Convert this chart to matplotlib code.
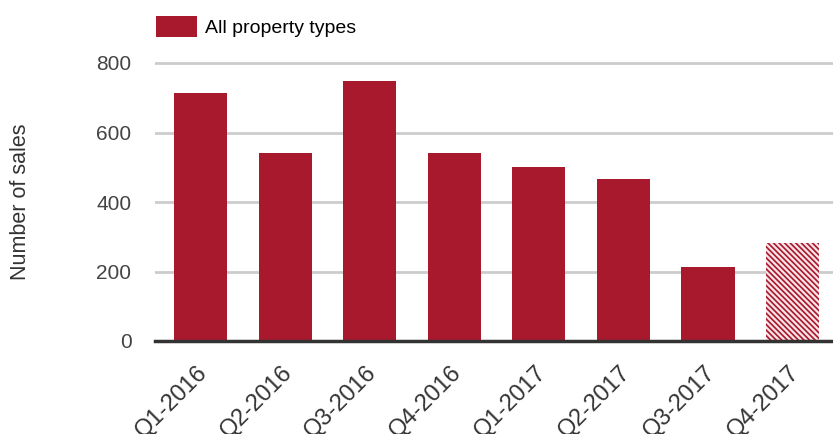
import matplotlib
matplotlib.use("Agg")
import matplotlib.pyplot as plt
import matplotlib.transforms as mtransforms
from matplotlib.patches import Patch

categories = ["Q1-2016", "Q2-2016", "Q3-2016", "Q4-2016", "Q1-2017", "Q2-2017", "Q3-2017", "Q4-2017"]
sales = [714, 541, 748, 541, 501, 466, 213, 282]
hatched = [False, False, False, False, False, False, False, True]
yticks = [0, 200, 400, 600, 800]

color = "#A8192E"
plt.rcParams['font.family'] = ['Liberation Sans', 'DejaVu Sans']
plt.rcParams['hatch.linewidth'] = 1.6

fig = plt.figure(figsize=(8.33, 4.34), dpi=100)
px_per = 278 / 800
y0 = 341
ytop = 820
ax = fig.add_axes([155/833, 1 - y0/434, 1 - 155/833, ytop*px_per/434])

x = list(range(len(categories)))
for xi, v, h in zip(x, sales, hatched):
    if h:
        ax.bar(xi, v, width=0.63, color=color, edgecolor="#f8e4e7", hatch="\\" * 6, linewidth=0, zorder=3)
    else:
        ax.bar(xi, v, width=0.63, color=color, linewidth=0, zorder=3)

ax.set_xlim(-0.54, 7.48)
ax.set_ylim(0, ytop)
ax.set_yticks(yticks)
ax.set_yticklabels([str(t) for t in yticks], fontsize=15, color="#444444")
ax.yaxis.grid(True, color="#cccccc", linewidth=2, zorder=0)
ax.set_axisbelow(True)
for s in ["top", "right", "left"]:
    ax.spines[s].set_visible(False)
ax.spines["bottom"].set_color("#333333")
ax.spines["bottom"].set_linewidth(2.5)
ax.spines["bottom"].set_zorder(4)
ax.tick_params(axis="y", length=0, pad=17)
ax.tick_params(axis="x", length=0, pad=15)
ax.set_xticks(x)
ax.set_xticklabels(categories, rotation=45, ha="right", rotation_mode="anchor", fontsize=17, color="#333333")
shift = mtransforms.ScaledTranslation(-4/100, 0, fig.dpi_scale_trans)
for lbl in ax.get_xticklabels():
    lbl.set_transform(lbl.get_transform() + shift)

fig.text(21/833, 1 - 202/434, "Number of sales", rotation=90, ha="center", va="center", fontsize=15.5, color="#333333")

handles = [Patch(facecolor=color, edgecolor="none")]
fig.legend(handles, ["All property types"], loc="upper left", bbox_to_anchor=(156/833, 1 - 16/434),
           frameon=False, fontsize=14, handlelength=2.1, handleheight=1.25, handletextpad=0.42,
           borderpad=0, borderaxespad=0)

fig.savefig("out.png", dpi=100)
